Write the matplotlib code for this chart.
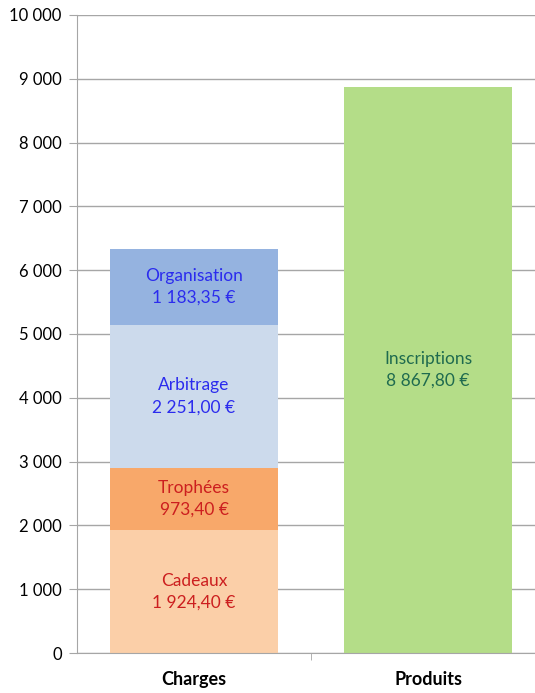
import matplotlib.pyplot as plt
from matplotlib.ticker import FuncFormatter

plt.rcParams['font.family'] = ['Lato', 'DejaVu Sans']

# Data
categories = ['Charges', 'Produits']
charge_labels = ['Cadeaux', 'Trophées', 'Arbitrage', 'Organisation']
charge_values = [1924.40, 973.40, 2251.00, 1183.35]
produit_labels = ['Inscriptions']
produit_values = [8867.80]

charge_colors = ['#FBCFA8', '#F8A86A', '#CCDAEC', '#95B3E0']
charge_text_colors = ['#CC1F1F', '#CC1F1F', '#2B2BEE', '#2B2BEE']
produit_colors = ['#B4DD88']
produit_text_colors = ['#1F6B4F']


def euro(v):
    s = f"{v:,.2f}".replace(',', ' ').replace('.', ',')
    return s + ' €'


fig = plt.figure(figsize=(5.35, 6.93), dpi=100)
ax = fig.add_axes([77 / 535, 40 / 693, 468 / 535, 638 / 693])

x = [0, 1]
width = 0.715


def stack(xpos, labels, values, colors, tcolors):
    bottom = 0
    for lab, val, col, tc in zip(labels, values, colors, tcolors):
        ax.bar(xpos, val, width, bottom=bottom, color=col, zorder=2)
        ax.text(xpos, bottom + val / 2, f"{lab}\n{euro(val)}", ha='center', va='center',
                color=tc, fontsize=12.5, linespacing=1.45, zorder=3)
        bottom += val


stack(x[0], charge_labels, charge_values, charge_colors, charge_text_colors)
stack(x[1], produit_labels, produit_values, produit_colors, produit_text_colors)

ax.set_xlim(-0.5, 1.5)
ax.set_ylim(0, 10000)
ax.set_yticks(range(0, 10001, 1000))
ax.yaxis.set_major_formatter(FuncFormatter(lambda v, p: f"{int(v):,}".replace(',', ' ')))
ax.grid(axis='y', color='#A6A6A6', linewidth=1, zorder=0)

ax.set_xticks(x)
ax.set_xticklabels(categories, fontsize=13, fontweight='bold')
ax.set_xticks([0.5], minor=True)
ax.tick_params(axis='x', which='major', length=0, pad=13)
ax.tick_params(axis='x', which='minor', length=5, color='#A6A6A6')
ax.tick_params(axis='y', length=6, color='#A6A6A6', labelsize=12, pad=5)

for s in ['top', 'right']:
    ax.spines[s].set_visible(False)
ax.spines['left'].set_color('#A6A6A6')
ax.spines['bottom'].set_color('#A6A6A6')

fig.savefig('out.png', dpi=100)
